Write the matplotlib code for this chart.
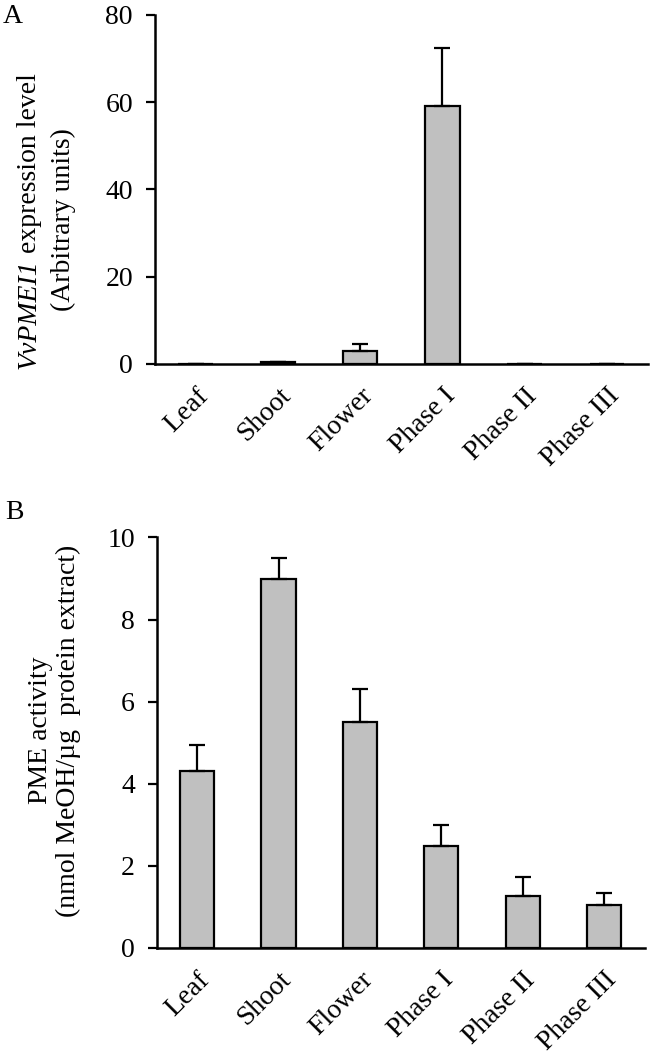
import matplotlib
matplotlib.use("Agg")
import matplotlib.pyplot as plt
import matplotlib.transforms as mtransforms
import numpy as np

categories = ["Leaf", "Shoot", "Flower", "Phase I", "Phase II", "Phase III"]
expr_vals = [0.0, 0.4, 3.0, 59.0, 0.0, 0.0]
expr_err = [0.0, 0.0, 1.6, 13.5, 0.0, 0.0]
pme_vals = [4.32, 9.0, 5.5, 2.48, 1.27, 1.05]
pme_err = [0.63, 0.5, 0.8, 0.52, 0.45, 0.3]

plt.rcParams['font.family'] = ['Liberation Serif', 'DejaVu Serif']

FS = 20
W, H = 666, 1058

fig = plt.figure(figsize=(W / 100, H / 100), dpi=100)
axA = fig.add_axes([0.232, 0.656, 0.741, 0.330])
axB = fig.add_axes([0.235, 0.104, 0.733, 0.388])

def style(ax, vals, err, ylim, yticks):
    x = np.arange(len(categories))
    lower = [0] * len(err)
    ax.bar(x, vals, width=0.42, color="#c0c0c0", edgecolor="black", linewidth=1.6,
           yerr=[lower, err], error_kw=dict(ecolor="black", elinewidth=1.6, capsize=6, capthick=1.6),
           zorder=2)
    ax.set_xlim(-0.5, len(categories) - 0.5)
    ax.set_ylim(*ylim)
    ax.set_yticks(yticks)
    ax.set_xticks(x)
    ax.set_xticklabels(categories, rotation=45, ha="right", rotation_mode="anchor", fontsize=FS)
    off = mtransforms.ScaledTranslation(-4 / 100, 0, fig.dpi_scale_trans)
    for lab in ax.get_xticklabels():
        lab.set_transform(lab.get_transform() + off)
    ax.tick_params(axis="x", length=0, pad=14)
    ax.tick_params(axis="y", direction="out", length=6.5, width=1.6, labelsize=FS, pad=9)
    for s in ["top", "right"]:
        ax.spines[s].set_visible(False)
    for s in ["left", "bottom"]:
        ax.spines[s].set_linewidth(1.8)

style(axA, expr_vals, expr_err, (0, 80), [0, 20, 40, 60, 80])
style(axB, pme_vals, pme_err, (0, 10), [0, 2, 4, 6, 8, 10])

# --- y labels (manual, to allow italic digits in gene name) ---
renderer = fig.canvas.get_renderer()

def px(x, y):
    return x / W, 1 - y / H

def vline_pieces(pieces, xbase, ycenter):
    texts = []
    lengths = []
    for s, st in pieces:
        t = fig.text(0, 0, s, rotation=90, rotation_mode="anchor", ha="left", va="baseline",
                     fontsize=FS, fontstyle=st)
        texts.append(t)
        bb = t.get_window_extent(renderer)
        lengths.append(bb.height)
    total = sum(lengths)
    ystart = ycenter + total / 2  # pixel coordinate from top (bottom of text)
    pos = ystart
    for t, L in zip(texts, lengths):
        t.set_position(px(xbase, pos))
        pos -= L

vline_pieces([("VvPMEI1", "italic"), (" expression level", "normal")], 36, 221)
vline_pieces([("(Arbitrary units)", "normal")], 70, 220)
vline_pieces([("PME activity", "normal")], 47, 730)
vline_pieces([("(nmol MeOH/µg  protein extract)", "normal")], 75, 731)

fig.text(*px(3, 23), "A", fontsize=FS, va="baseline", ha="left")
fig.text(*px(5, 519), "B", fontsize=FS, va="baseline", ha="left")

fig.savefig("out.png", dpi=100)
